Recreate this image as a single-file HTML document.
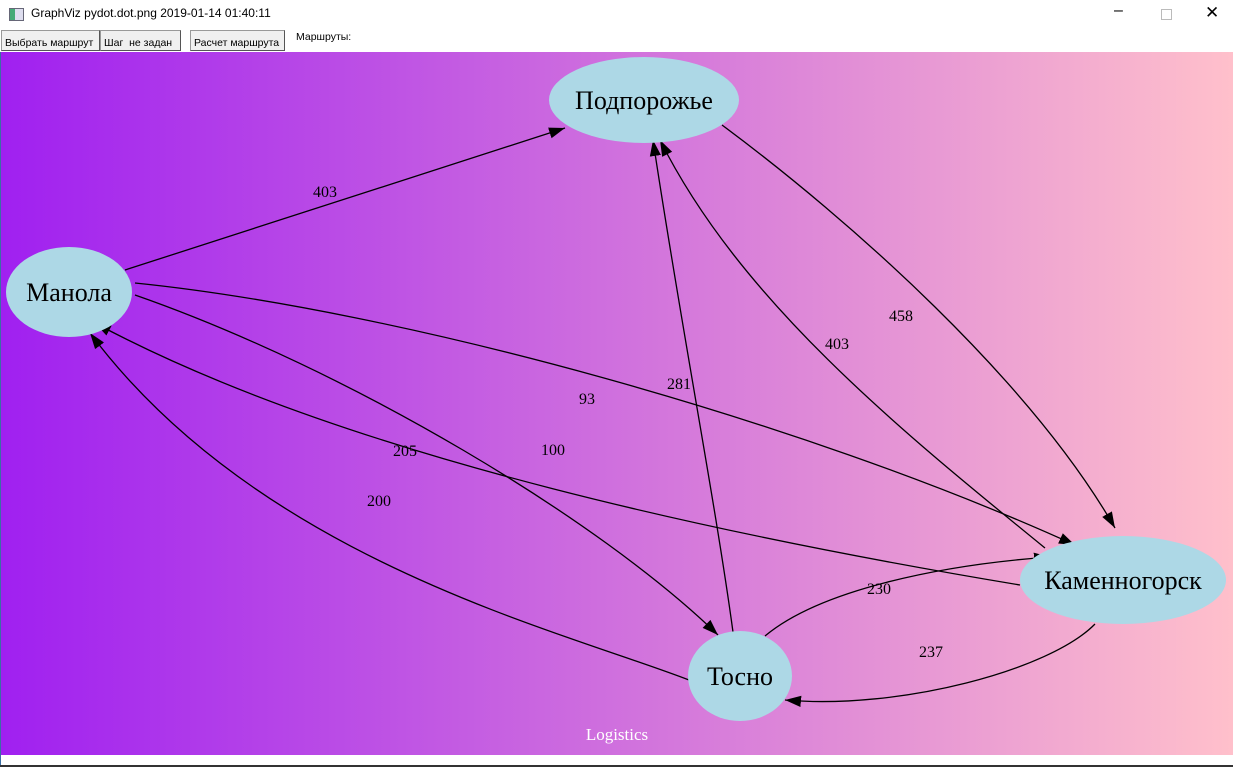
<!DOCTYPE html>
<html><head><meta charset="utf-8"><style>
body{margin:0;width:1233px;height:767px;overflow:hidden;background:#fff;position:relative;font-family:"Liberation Sans",sans-serif}
.title{position:absolute;left:31px;top:6px;font-size:12px;color:#000}
.ico{position:absolute;left:9px;top:8px;width:13px;height:11px;border:1px solid #667;background:linear-gradient(90deg,#4a7 40%,#dde 40%)}
.btn{position:absolute;top:30px;height:21px;border:1px solid #999;border-right-color:#555;border-bottom-color:#555;background:#f0f0f0;font-size:10.5px;line-height:24px;padding:0 3px;box-sizing:border-box}
.wc{position:absolute;top:4px;font-size:16px;color:#000}
svg{position:absolute;left:0;top:0}
</style></head><body>
<div class="ico"></div>
<div class="title">GraphViz pydot.dot.png 2019-01-14 01:40:11</div>
<div class="wc" style="left:1114px;top:2px">–</div>
<div style="position:absolute;left:1161px;top:9px;width:9px;height:9px;border:1px solid #bbb"></div>
<div class="wc" style="left:1205px;top:3px;font-size:17px">✕</div>
<div class="btn" style="left:1px;width:99px">Выбрать маршрут</div>
<div class="btn" style="left:100px;width:81px">Шаг &nbsp;не задан</div>
<div class="btn" style="left:190px;width:95px">Расчет маршрута</div>
<div style="position:absolute;left:296px;top:31px;font-size:10.5px">Маршруты:</div>
<svg width="1233" height="767" font-family="Liberation Serif,serif">
<defs>
<linearGradient id="g" x1="0" x2="1"><stop offset="0" stop-color="#a020f0"/><stop offset="1" stop-color="#ffc0cb"/></linearGradient>
<marker id="a" viewBox="0 0 10 10" refX="10" refY="5" markerWidth="16" markerHeight="16" markerUnits="userSpaceOnUse" orient="auto"><path d="M0,1.5 L10,5 L0,8.5z" fill="#000"/></marker>
</defs>
<rect x="1" y="52" width="1232" height="703" fill="url(#g)"/>
<rect x="0" y="52" width="1" height="713" fill="#3a6ea5"/>
<rect x="0" y="765" width="1233" height="2" fill="#333"/>
<g fill="none" stroke="#000" stroke-width="1.3" marker-end="url(#a)">
<path d="M125,270 L565,128"/>
<path d="M135,283 C400,310 800,420 1075,545"/>
<path d="M135,295 C350,370 600,520 718,635"/>
<path d="M1020,585 C750,540 350,460 95,323"/>
<path d="M689,680 C560,630 260,560 90,333"/>
<path d="M733,632 C715,500 680,320 653,140"/>
<path d="M1045,548 C900,430 740,300 660,140"/>
<path d="M722,125 C850,220 1030,380 1115,528"/>
<path d="M765,636 C820,590 940,565 1050,557"/>
<path d="M1095,624 C1050,670 900,710 785,700"/>
</g>
<g fill="#add8e6">
<ellipse cx="644" cy="100" rx="95" ry="43"/>
<ellipse cx="69" cy="292" rx="63" ry="45"/>
<ellipse cx="1123" cy="580" rx="103" ry="44"/>
<ellipse cx="740" cy="676" rx="52" ry="45"/>
</g>
<g font-size="26" text-anchor="middle" fill="#000">
<text x="644" y="109">Подпорожье</text>
<text x="69" y="301">Манола</text>
<text x="1123" y="589">Каменногорск</text>
<text x="740" y="685">Тосно</text>
</g>
<g font-size="16" text-anchor="middle" fill="#000">
<text x="325" y="197">403</text>
<text x="587" y="404">93</text>
<text x="553" y="455">100</text>
<text x="405" y="456">205</text>
<text x="379" y="506">200</text>
<text x="679" y="389">281</text>
<text x="837" y="349">403</text>
<text x="901" y="321">458</text>
<text x="879" y="594">230</text>
<text x="931" y="657">237</text>
</g>
<text x="617" y="740" font-size="17" text-anchor="middle" fill="#fff">Logistics</text>
</svg>
</body></html>
